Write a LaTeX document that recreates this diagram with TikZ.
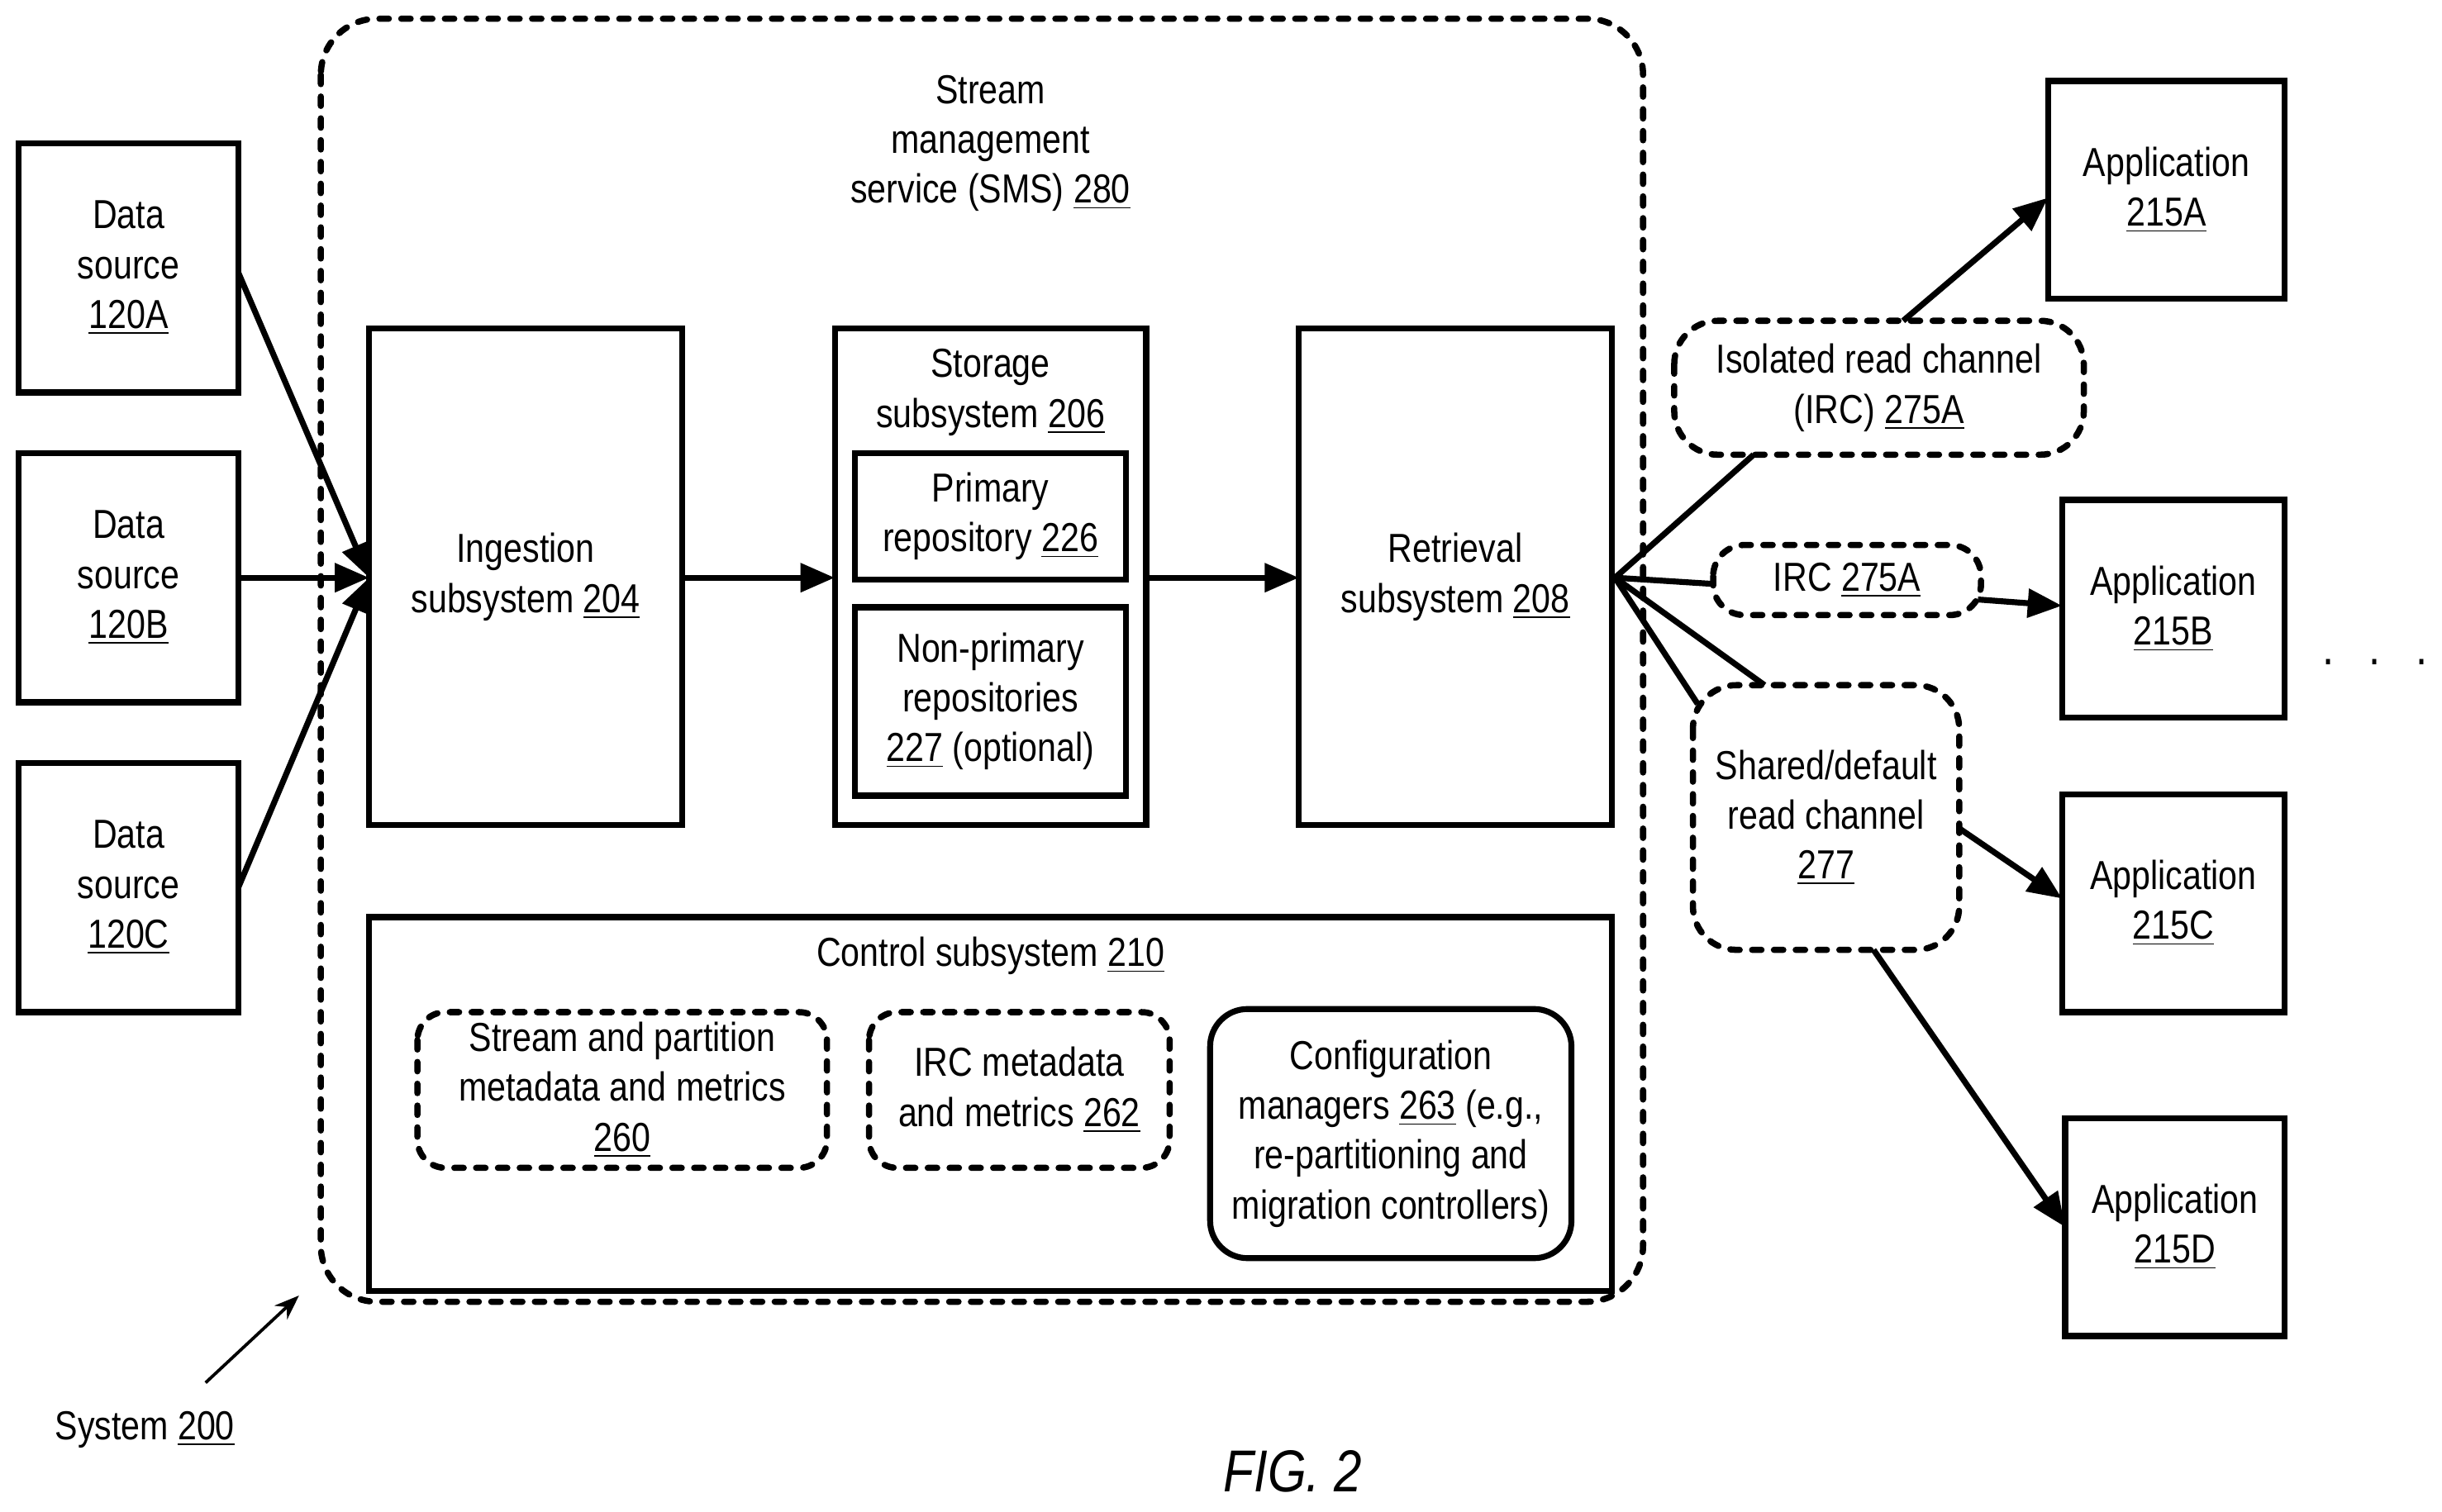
\documentclass[tikz,border=0pt]{standalone}
\usepackage{fontspec}
\setmainfont{Liberation Sans}[FakeStretch=0.84]
\usetikzlibrary{arrows.meta}
\begin{document}
\begin{tikzpicture}[x=0.5pt,y=-0.5pt,
 font=\fontsize{13}{16}\selectfont,
 every node/.style={align=center},
 box/.style={draw,line width=1.9pt,align=center},
 dsh/.style={draw,line width=2pt,dash pattern=on 3pt off 4pt,line cap=round,rounded corners=9pt,align=center},
 arr/.style={line width=1.9pt,-{Triangle[length=11pt,width=9pt]}},
 ln/.style={line width=1.9pt}]
\useasboundingbox (0,0) rectangle (1568,971);
% SMS
\draw[dsh,rounded corners=18pt] (206,12) rectangle (1055,836);
\node (sms) at (636,92) {Stream\\management\\service (SMS) \underline{280}};
% data sources
\draw[box] (12,92) rectangle (153,252) node[midway] (dA) {Data\\source\\\underline{120A}};
\draw[box] (12,291) rectangle (153,451) node[midway] (dB) {Data\\source\\\underline{120B}};
\draw[box] (12,490) rectangle (153,650) node[midway] (dC) {Data\\source\\\underline{120C}};
% ingestion, storage, retrieval
\draw[box] (237,211) rectangle (438,530) node[midway] (ing) {Ingestion\\subsystem \underline{204}};
\draw[box] (536,211) rectangle (736,530);
\node (sto) at (636,252) {Storage\\subsystem \underline{206}};
\draw[box] (549,291) rectangle (723,372) node[midway] (pri) {Primary\\repository \underline{226}};
\draw[box] (549,390) rectangle (723,511) node[midway] (np) {Non-primary\\repositories\\\underline{227} (optional)};
\draw[box] (834,211) rectangle (1035,530) node[midway] (ret) {Retrieval\\subsystem \underline{208}};
% control
\draw[box] (237,589) rectangle (1035,829);
\node (ctl) at (636,614) {Control subsystem \underline{210}};
\draw[dsh] (268,650) rectangle (531,750) node[midway] (smm) {Stream and partition\\metadata and metrics\\\underline{260}};
\draw[dsh] (558,650) rectangle (751,750) node[midway] (ircm) {IRC metadata\\and metrics \underline{262}};
\draw[box,rounded corners=12pt] (777,648) rectangle (1009,808) node[midway] (cfg) {Configuration\\managers \underline{263} (e.g.,\\re-partitioning and\\migration controllers)};
% applications
\draw[box] (1315,52) rectangle (1467,192) node[midway] (aA) {Application\\\underline{215A}};
\draw[box] (1324,321) rectangle (1467,461) node[midway] (aB) {Application\\\underline{215B}};
\draw[box] (1324,510) rectangle (1467,650) node[midway] (aC) {Application\\\underline{215C}};
\draw[box] (1326,718) rectangle (1467,858) node[midway] (aD) {Application\\\underline{215D}};
\node[font=\fontsize{16}{16}\selectfont] (dots) at (1525,425) {.\ \ \ .\ \ \ .};
% channels
\draw[dsh,rounded corners=14pt] (1075,206) rectangle (1338,292) node[midway] (irc1) {Isolated read channel\\(IRC) \underline{275A}};
\draw[dsh,rounded corners=10pt] (1100,350) rectangle (1272,395) node[midway] (irc2) {IRC \underline{275A}};
\draw[dsh,rounded corners=14pt] (1087,440) rectangle (1258,610) node[midway] (shr) {Shared/default\\read channel\\\underline{277}};
% connectors
\coordinate (ingL) at (237,371);
\draw[arr] (153,175) -- (ingL);
\draw[arr] (153,371) -- (ingL);
\draw[arr] (153,570) -- (ingL);
\draw[arr] (438,371) -- (536,371);
\draw[arr] (736,371) -- (834,371);
\coordinate (rR) at (1037,371);
\draw[ln] (rR) -- (1126,292);
\draw[arr] (1222,206) -- (1315,127);
\draw[ln] (rR) -- (1100,375);
\draw[arr] (1270,385) -- (1324,389);
\draw[ln] (rR) -- (1133,440);
\draw[ln] (rR) -- (1090,452);
\draw[arr] (1258,532) -- (1324,577);
\draw[arr] (1203,610) -- (1326,788);
% system label
\node (sys) at (93,918) {System \underline{200}};
\draw[-{Stealth[length=8pt,width=6pt]},line width=1pt] (132,888) -- (192,832);
\node[font=\fontsize{19}{22}\selectfont\itshape] (fig) at (830,945) {FIG. 2};
\end{tikzpicture}
\end{document}
